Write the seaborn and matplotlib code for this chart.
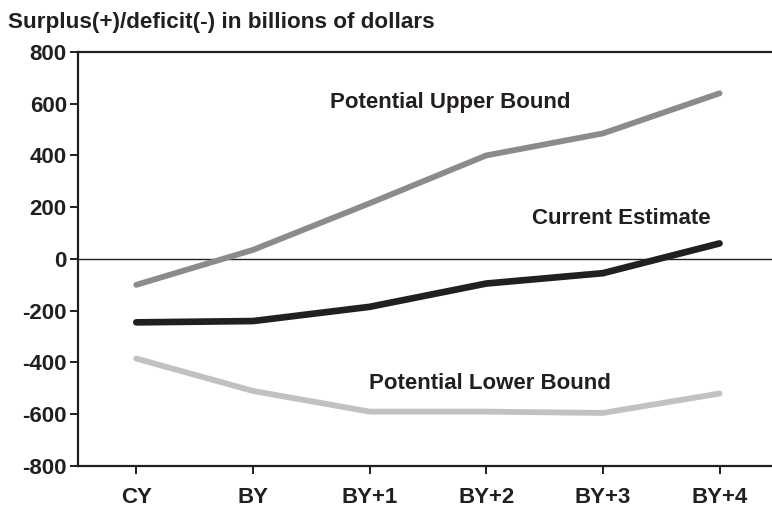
import matplotlib
matplotlib.use("Agg")
import matplotlib.pyplot as plt
import seaborn as sns
import pandas as pd

# values (billions of dollars)
years = ["CY", "BY", "BY+1", "BY+2", "BY+3", "BY+4"]
upper_bound = [-100, 35, 215, 400, 485, 640]
current_estimate = [-245, -240, -185, -95, -55, 60]
lower_bound = [-385, -510, -590, -590, -595, -520]
y_ticks = [-800, -600, -400, -200, 0, 200, 400, 600, 800]

ink = "#231f20"

sns.set_theme(style="ticks")
plt.rcParams["font.family"] = ["Liberation Sans", "DejaVu Sans"]
plt.rcParams["font.weight"] = "bold"

df = pd.DataFrame({"year": years, "pos": range(len(years)),
                   "upper": upper_bound, "current": current_estimate, "lower": lower_bound})

fig = plt.figure(figsize=(7.72, 5.09), dpi=100)
ax = fig.add_axes([0.101, 0.0845, 0.899, 0.8135])

ax.axhline(0, color=ink, lw=1.0, zorder=1)
sns.lineplot(data=df, x="pos", y="upper", ax=ax, color="#8b8b8d", lw=4.2,
             solid_capstyle="round", zorder=3)
sns.lineplot(data=df, x="pos", y="current", ax=ax, color=ink, lw=4.8,
             solid_capstyle="round", zorder=4)
sns.lineplot(data=df, x="pos", y="lower", ax=ax, color="#c1c1c1", lw=4.2,
             solid_capstyle="round", zorder=3)

txt = dict(color=ink, fontsize=16, fontweight="bold", ha="center", va="center")
ax.text(2.69, 603, "Potential Upper Bound", **txt)
ax.text(4.16, 158, "Current Estimate", **txt)
ax.text(3.03, -483, "Potential Lower Bound", **txt)

ax.set_xlim(-0.5, 5.45)
ax.set_ylim(-800, 800)
ax.set_yticks(y_ticks)
ax.set_yticklabels([str(v) for v in y_ticks])
ax.set_xticks(df["pos"])
ax.set_xticklabels(years)
ax.set_xlabel("")
ax.set_ylabel("")

for side in ["left", "bottom", "top"]:
    ax.spines[side].set_color(ink)
    ax.spines[side].set_linewidth(1.6)
ax.spines["right"].set_visible(False)
ax.tick_params(axis="both", colors=ink, labelsize=16, width=1.4, length=6, direction="out")
ax.tick_params(axis="x", pad=9)
ax.tick_params(axis="y", pad=2)
for lab in ax.get_xticklabels() + ax.get_yticklabels():
    lab.set_fontweight("bold")

fig.text(0.01, 0.955, "Surplus(+)/deficit(-) in billions of dollars", color=ink,
         fontsize=16.2, fontweight="bold", ha="left", va="center")

fig.savefig("out.png", dpi=100)
